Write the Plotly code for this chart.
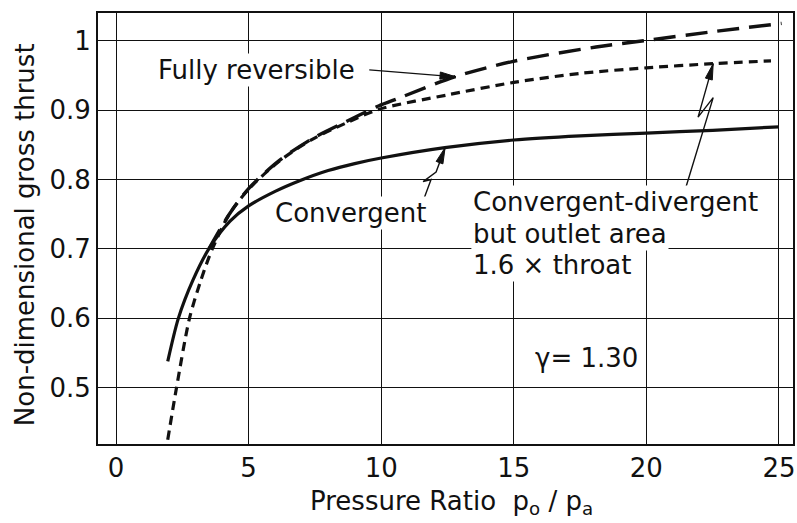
import math
import plotly.graph_objects as go

# ---- curve data: non-dimensional gross thrust vs pressure ratio p0/pa ----
conv_x = [1.95, 2.35, 2.9, 3.5, 4.3, 5.0, 6.0, 6.9, 8.0, 9.0, 10.0, 12.4, 15.0, 17.5, 20.0, 22.5, 25.0]
conv_y = [0.538, 0.600, 0.655, 0.700, 0.740, 0.762, 0.783, 0.798, 0.813, 0.823, 0.831, 0.846, 0.857, 0.863, 0.867, 0.871, 0.876]

cd_x = [1.95, 2.28, 2.77, 3.2, 3.63, 4.27, 5.0, 6.14, 7.4, 8.65, 9.9, 12.5, 15.0, 17.5, 20.0, 22.5, 24.7]
cd_y = [0.425, 0.500, 0.600, 0.655, 0.700, 0.750, 0.786, 0.826, 0.858, 0.881, 0.901, 0.922, 0.940, 0.953, 0.961, 0.967, 0.971]

rev_x = [3.5, 4.27, 5.0, 6.14, 7.4, 8.65, 9.9, 10.64, 12.77, 14.94, 18.1, 19.9, 22.5, 25.1]
rev_y = [0.700, 0.750, 0.787, 0.827, 0.859, 0.883, 0.906, 0.917, 0.948, 0.970, 0.991, 1.000, 1.013, 1.025]

x_ticks = [0, 5, 10, 15, 20, 25]
y_ticks = [0.5, 0.6, 0.7, 0.8, 0.9, 1.0]
y_tick_text = ["0.5", "0.6", "0.7", "0.8", "0.9", "1"]

# ---- geometry ----
W, H = 797, 523
M = dict(l=98, r=2, t=13, b=79)
XR = [-0.68, 25.53]
YR = [0.419, 1.040]
PW = W - M["l"] - M["r"]
PH = H - M["t"] - M["b"]
SX = PW / (XR[1] - XR[0])   # px per x unit
SY = PH / (YR[1] - YR[0])   # px per y unit

FONT = "DejaVu Sans"
FS = 26
INK = "#111111"

fig = go.Figure()

fig.add_trace(go.Scatter(x=conv_x, y=conv_y, mode="lines",
                         line=dict(color=INK, width=3.2, shape="spline", smoothing=0.8),
                         showlegend=False))
fig.add_trace(go.Scatter(x=cd_x, y=cd_y, mode="lines",
                         line=dict(color=INK, width=3.2, dash="9px,6px", shape="spline", smoothing=0.8),
                         showlegend=False))
fig.add_trace(go.Scatter(x=rev_x, y=rev_y, mode="lines",
                         line=dict(color=INK, width=3.4, dash="22px,10px", shape="spline", smoothing=0.8),
                         showlegend=False))


def path_str(pts):
    return "M " + " L ".join(f"{x:.4f},{y:.4f}" for x, y in pts)


def arrow_head(tail, tip, length=16.0, half=3.6):
    """Slender filled triangle (drawn in pixel space) ending at tip."""
    dx = (tip[0] - tail[0]) * SX
    dy = (tip[1] - tail[1]) * SY
    n = math.hypot(dx, dy)
    ux, uy = dx / n, dy / n
    bx, by = -ux * length, -uy * length
    px, py = -uy * half, ux * half
    c1 = (tip[0] + (bx + px) / SX, tip[1] + (by + py) / SY)
    c2 = (tip[0] + (bx - px) / SX, tip[1] + (by - py) / SY)
    return path_str([tip, c1, c2]) + " Z"


shapes = []


def leader(points):
    shapes.append(dict(type="path", path=path_str(points), xref="x", yref="y",
                       line=dict(color=INK, width=1.4), layer="above"))
    shapes.append(dict(type="path", path=arrow_head(points[-2], points[-1]),
                       xref="x", yref="y", fillcolor=INK,
                       line=dict(color=INK, width=1), layer="above"))


# leaders: "Fully reversible", "Convergent" (zig-zag), "Convergent-divergent" (zig-zag)
leader([(9.55, 0.958), (12.82, 0.948)])
leader([(11.50, 0.761), (11.88, 0.800), (11.58, 0.797), (12.07, 0.811), (12.41, 0.846)])
leader([(21.50, 0.790), (22.52, 0.918), (21.95, 0.890), (22.52, 0.967)])

tf = dict(family=FONT, size=FS, color=INK)
ann = [
    dict(x=5.30, y=0.958, text="Fully reversible"),
    dict(x=8.83, y=0.752, text="Convergent"),
    dict(x=13.38, y=0.767, text="Convergent-divergent", xanchor="left"),
    dict(x=13.38, y=0.722, text="but outlet area", xanchor="left"),
    dict(x=13.38, y=0.677, text="1.6 × throat", xanchor="left"),
    dict(x=17.74, y=0.543, text="γ= 1.30"),
]
annotations = []
for a in ann:
    d = dict(xref="x", yref="y", showarrow=False, font=tf, bgcolor="white",
             borderpad=1, yanchor="middle")
    d.setdefault("xanchor", "center")
    d.update(a)
    annotations.append(d)

# axis titles
annotations.append(dict(xref="paper", yref="paper", x=(25 - M["l"]) / PW,
                        y=(H - M["b"] - 235) / PH, text="Non-dimensional gross thrust",
                        textangle=-90, showarrow=False, font=tf,
                        xanchor="center", yanchor="middle"))
annotations.append(dict(xref="paper", yref="paper", x=(453 - M["l"]) / PW,
                        y=(H - M["b"] - 502) / PH,
                        text="Pressure Ratio&nbsp; p<sub>o</sub> / p<sub>a</sub>",
                        showarrow=False, font=tf, xanchor="center", yanchor="middle"))

axis_common = dict(showgrid=True, gridcolor=INK, gridwidth=1, zeroline=False,
                   showline=True, mirror=True, linecolor=INK, linewidth=2,
                   ticks="", tickfont=dict(family=FONT, size=FS, color=INK))

fig.update_layout(
    width=W, height=H, autosize=False, margin=M,
    paper_bgcolor="white", plot_bgcolor="white",
    xaxis=dict(range=XR, tickvals=x_ticks, **axis_common),
    yaxis=dict(range=YR, tickvals=y_ticks, ticktext=y_tick_text, **axis_common),
    shapes=shapes, annotations=annotations, showlegend=False,
)

fig.write_html("out.html")
